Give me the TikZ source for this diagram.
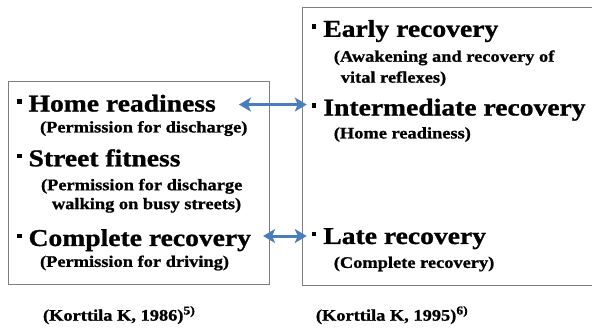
\documentclass[tikz,border=0pt]{standalone}
\usepackage{fontspec}
\setmainfont{Liberation Serif}[FakeStretch=1.14,FakeBold=1]
\usepackage{tikz}
\usetikzlibrary{arrows.meta}

\definecolor{arrowblue}{HTML}{4A7EBB}
\definecolor{boxgray}{HTML}{7F7F7F}
\newcommand{\bul}{\rule[8pt]{4.5pt}{4.5pt}\hspace{7pt}}

\begin{document}
\begin{tikzpicture}[x=1pt,y=-1pt,
    big/.style={anchor=base west,inner sep=0pt,font=\fontsize{24.3}{28}\selectfont\bfseries},
    small/.style={anchor=base west,inner sep=0pt,font=\fontsize{16.2}{19}\selectfont\bfseries},
    frame/.style={draw=boxgray,line width=0.9pt},
    link/.style={draw=arrowblue,line width=3pt,{Stealth[length=12pt,width=14pt,inset=3pt]}-{Stealth[length=12pt,width=14pt,inset=3pt]}}]

    \fill[white] (0,0) rectangle (592,329);

    % left column
    \draw[frame] (8.5,82) rectangle (270.5,286);
    \node (home) at (17,112) [big] {\bul Home readiness};
    \node (homesub) at (40,133) [small] {(Permission for discharge)};
    \node (street) at (17,167) [big] {\bul Street fitness};
    \node (streetsub) at (41,191) [small] {(Permission for discharge};
    \node (streetsubb) at (52,210) [small] {walking on busy streets)};
    \node (complete) at (17,247) [big] {\bul Complete recovery};
    \node (completesub) at (40,268) [small] {(Permission for driving)};

    % right column
    \draw[frame] (594,7.5) -- (303.5,7.5) -- (303.5,286.5) -- (594,286.5);
    \node (early) at (313,37) [big] {\bul Early recovery};
    \node (earlysub) at (335,62) [small] {(Awakening and recovery of};
    \node (earlysubb) at (342,83) [small] {vital reflexes)};
    \node (inter) at (313,116) [big] {\bul Intermediate recovery};
    \node (intersub) at (335,139) [small] {(Home readiness)};
    \node (late) at (313,245) [big] {\bul Late recovery};
    \node (latesub) at (335,269) [small] {(Complete recovery)};

    \draw[link] ([xshift=23pt,yshift=7pt]home.base east) -- ([xshift=-5pt,yshift=7pt]home.base east -| inter.west);
    \draw[link] ([xshift=12pt,yshift=10pt]complete.base east) -- ([xshift=-5pt,yshift=10pt]complete.base east -| late.west);

    % sources
    \node (cite1) at (43,322) [small] {(Korttila K, 1986)\textsuperscript{\fontsize{12}{12}\selectfont 5)}};
    \node (cite2) at (317,322) [small] {(Korttila K, 1995)\textsuperscript{\fontsize{12}{12}\selectfont 6)}};

\end{tikzpicture}
\end{document}
